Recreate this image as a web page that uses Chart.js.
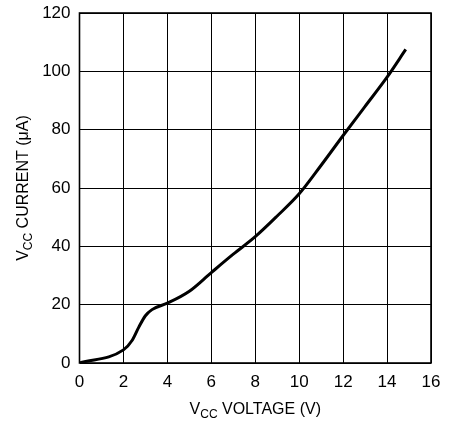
<!DOCTYPE html>
<html>
<head>
<meta charset="utf-8">
<script src="https://cdn.jsdelivr.net/npm/chart.js@4.4.0/dist/chart.umd.min.js"></script>
<style>
  html, body { margin: 0; padding: 0; background: #fff; }
  #wrap { width: 460px; height: 423px; }
</style>
</head>
<body>
<div id="wrap"><canvas id="myChart" width="460" height="423"></canvas></div>
<script>
// supply current vs supply voltage
var voltage = [0, 2, 2.4, 2.7, 3, 3.3, 4, 5, 6, 7, 8, 9, 10, 11, 12, 13, 14, 14.85];
var current = [0, 4.5, 7.8, 12.3, 16.2, 18.3, 20.5, 24.6, 31, 37.3, 43.3, 50.4, 58, 67.8, 78, 88, 98, 107.5];
var xTicks = [0, 2, 4, 6, 8, 10, 12, 14, 16];
var yTicks = [0, 20, 40, 60, 80, 100, 120];

var fontName = "'Liberation Sans', Arial, sans-serif";

// draws "V" + subscript "CC" + rest of label
function drawSubLabel(ctx, x, y, rest, rotate) {
    ctx.save();
    ctx.translate(x, y);
    if (rotate) ctx.rotate(-Math.PI / 2);
    ctx.fillStyle = '#000';
    ctx.textBaseline = 'alphabetic';
    var big = '16px ' + fontName;
    var small = '12px ' + fontName;
    ctx.font = big;
    var w1 = ctx.measureText('V').width;
    var w3 = ctx.measureText(rest).width;
    ctx.font = small;
    var w2 = ctx.measureText('CC').width;
    var total = w1 + w2 + w3;
    var sx = -total / 2;
    ctx.font = big;
    ctx.fillText('V', sx, 0);
    ctx.font = small;
    ctx.fillText('CC', sx + w1, 4);
    ctx.font = big;
    ctx.fillText(rest, sx + w1 + w2, 0);
    ctx.restore();
}

var framePlugin = {
    id: 'frame',
    afterDraw: function (chart) {
        var ctx = chart.ctx;
        var a = chart.chartArea;
        ctx.save();
        ctx.strokeStyle = '#000';
        ctx.lineWidth = 1.6;
        ctx.strokeRect(a.left, a.top, a.right - a.left, a.bottom - a.top);
        ctx.restore();
        drawSubLabel(ctx, (a.left + a.right) / 2, 414, ' VOLTAGE (V)', false);
        drawSubLabel(ctx, 28, (a.top + a.bottom) / 2, ' CURRENT (\u03bcA)', true);
    }
};

const ctx = document.getElementById('myChart').getContext('2d');
new Chart(ctx, {
    type: 'line',
    data: {
        datasets: [{
            data: voltage.map((v, i) => ({ x: v, y: current[i] })),
            borderColor: '#000',
            borderWidth: 3,
            pointRadius: 0,
            cubicInterpolationMode: 'monotone',
            fill: false
        }]
    },
    options: {
        responsive: false,
        animation: false,
        layout: { padding: { top: 13, right: 29, left: 0, bottom: 0 } },
        plugins: { legend: { display: false }, tooltip: { enabled: false } },
        scales: {
            x: {
                type: 'linear',
                min: 0, max: 16,
                afterBuildTicks: function (s) { s.ticks = xTicks.map(v => ({ value: v })); },
                afterFit: function (s) { s.height = 60; s.paddingLeft = 0; s.paddingRight = 0; },
                grid: { color: '#000', lineWidth: 1, drawTicks: false },
                border: { display: false },
                ticks: { color: '#000', padding: 9, font: { family: fontName, size: 17 } }
            },
            y: {
                type: 'linear',
                min: 0, max: 120,
                afterBuildTicks: function (s) { s.ticks = yTicks.map(v => ({ value: v })); },
                afterFit: function (s) { s.width = 79.5; s.paddingTop = 0; s.paddingBottom = 0; },
                grid: { color: '#000', lineWidth: 1, drawTicks: false },
                border: { display: false },
                ticks: { color: '#000', padding: 9, font: { family: fontName, size: 17 } }
            }
        }
    },
    plugins: [framePlugin]
});
</script>
</body>
</html>
